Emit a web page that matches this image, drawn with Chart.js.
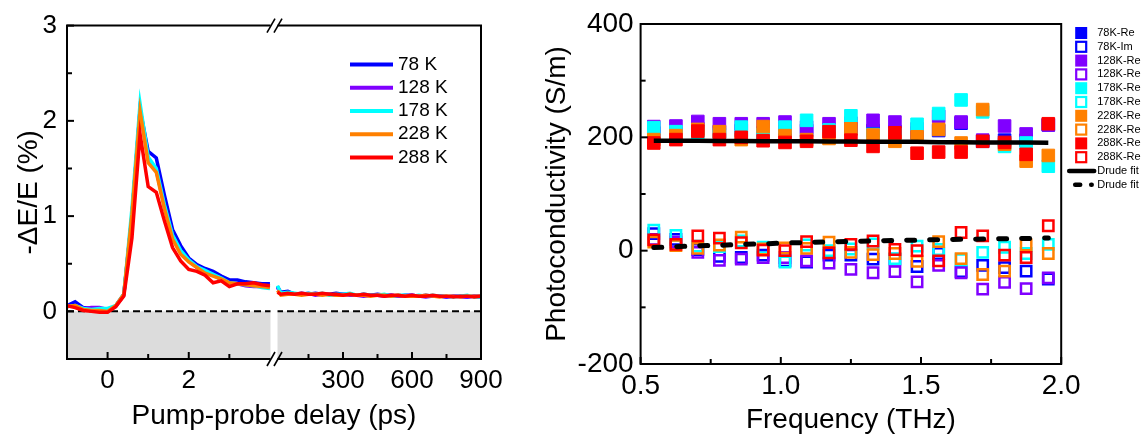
<!DOCTYPE html>
<html><head><meta charset="utf-8">
<script src="https://cdn.jsdelivr.net/npm/chart.js@4.4.1/dist/chart.umd.min.js"></script>
<style>
html,body{margin:0;padding:0;background:#fff;width:1142px;height:437px;overflow:hidden}
#c1{position:absolute;left:0;top:0}
#c2{position:absolute;left:520px;top:0}
</style></head><body>
<canvas id="c1" width="540" height="437"></canvas>
<canvas id="c2" width="622" height="437"></canvas>
<script>
const FONT = "'Liberation Sans', Arial, Helvetica, sans-serif";

// ===== Left panel data =====
const temps = ['78 K', '128 K', '178 K', '228 K', '288 K'];
const tempColors = ['#0000ff', '#8000ff', '#00ffff', '#ff8000', '#ff0000'];

const delayEarly = [-1.0, -0.8, -0.6, -0.4, -0.2, 0.0, 0.2, 0.4, 0.6, 0.8, 1.0, 1.2, 1.4, 1.6, 1.8, 2.0, 2.2, 2.4, 2.6, 2.8, 3.0, 3.2, 3.4, 3.6, 3.8, 4.0];
const early78  = [0.06, 0.10, 0.04, 0.03, 0.02, 0.01, 0.06, 0.18, 1.00, 2.12, 1.68, 1.61, 1.22, 0.86, 0.69, 0.56, 0.49, 0.45, 0.42, 0.37, 0.33, 0.33, 0.31, 0.30, 0.29, 0.29];
const early128 = [0.05, 0.06, 0.03, 0.04, 0.04, 0.02, 0.05, 0.17, 1.00, 2.12, 1.60, 1.48, 1.10, 0.80, 0.63, 0.53, 0.46, 0.42, 0.39, 0.33, 0.29, 0.29, 0.27, 0.26, 0.26, 0.25];
const early178 = [0.05, 0.06, 0.03, 0.02, 0.03, 0.03, 0.06, 0.18, 1.08, 2.18, 1.62, 1.50, 1.12, 0.80, 0.64, 0.54, 0.47, 0.43, 0.39, 0.35, 0.30, 0.29, 0.28, 0.27, 0.25, 0.24];
const early228 = [0.05, 0.06, 0.02, 0.01, 0.01, 0.00, 0.06, 0.18, 1.02, 2.10, 1.56, 1.46, 1.08, 0.76, 0.60, 0.52, 0.46, 0.40, 0.37, 0.34, 0.30, 0.29, 0.28, 0.27, 0.26, 0.25];
const early288 = [0.06, 0.04, 0.01, 0.00, -0.01, -0.01, 0.05, 0.16, 0.77, 1.86, 1.31, 1.25, 0.95, 0.67, 0.53, 0.44, 0.42, 0.38, 0.30, 0.32, 0.26, 0.29, 0.29, 0.30, 0.28, 0.27];

const delayLate = [15, 30, 60, 90, 120, 150, 180, 210, 240, 270, 300, 330, 360, 390, 420, 450, 480, 510, 540, 570, 600, 630, 660, 690, 720, 750, 780, 810, 840, 870, 900];
const late78  = [0.26, 0.20, 0.21, 0.18, 0.19, 0.18, 0.19, 0.18, 0.18, 0.19, 0.18, 0.18, 0.17, 0.18, 0.17, 0.18, 0.17, 0.17, 0.16, 0.17, 0.17, 0.16, 0.17, 0.16, 0.16, 0.15, 0.16, 0.16, 0.15, 0.16, 0.16];
const late128 = [0.25, 0.19, 0.19, 0.18, 0.18, 0.19, 0.17, 0.18, 0.18, 0.17, 0.18, 0.17, 0.17, 0.16, 0.17, 0.17, 0.16, 0.17, 0.16, 0.16, 0.17, 0.16, 0.15, 0.16, 0.16, 0.15, 0.16, 0.15, 0.15, 0.16, 0.15];
const late178 = [0.27, 0.19, 0.20, 0.19, 0.18, 0.19, 0.18, 0.19, 0.17, 0.18, 0.18, 0.19, 0.17, 0.18, 0.17, 0.17, 0.18, 0.16, 0.17, 0.17, 0.16, 0.17, 0.16, 0.17, 0.16, 0.16, 0.15, 0.16, 0.17, 0.15, 0.15];
const late228 = [0.22, 0.17, 0.18, 0.18, 0.17, 0.18, 0.18, 0.17, 0.18, 0.17, 0.17, 0.18, 0.17, 0.17, 0.16, 0.17, 0.17, 0.16, 0.17, 0.16, 0.16, 0.16, 0.17, 0.16, 0.15, 0.16, 0.16, 0.15, 0.16, 0.16, 0.16];
const late288 = [0.20, 0.18, 0.19, 0.18, 0.19, 0.18, 0.18, 0.19, 0.18, 0.18, 0.17, 0.18, 0.17, 0.18, 0.17, 0.17, 0.16, 0.17, 0.17, 0.16, 0.17, 0.16, 0.16, 0.17, 0.16, 0.16, 0.15, 0.16, 0.16, 0.15, 0.16];

const leftYTicks = [0, 1, 2, 3];
const leftYMinor = [0.5, 1.5, 2.5];
const earlyXTicks = [0, 2];
const earlyXMinor = [1, 3];
const lateXTicks = [300, 600, 900];
const lateXMinor = [150, 450, 750];

// ===== Right panel data =====
const freq = [0.547, 0.626, 0.704, 0.781, 0.859, 0.937, 1.015, 1.092, 1.172, 1.250, 1.329, 1.407, 1.486, 1.563, 1.643, 1.720, 1.798, 1.875, 1.954];
const re78  = [208, 206, 215, 210, 212, 208, 210, 212, 214, 215, 212, 210, 208, 212, 225, 193, 195, 195, 222];
const im78  = [30, 20, 2, -10, -12, -8, -18, -20, -8, -8, -15, -15, -28, -5, -37, -26, -30, -36, -50];
const re128 = [219, 220, 228, 224, 224, 224, 227, 218, 224, 225, 230, 227, 215, 237, 227, 195, 220, 206, 222];
const im128 = [20, 15, -3, -17, -15, -12, -12, -18, -22, -33, -39, -37, -55, -26, -39, -68, -56, -67, -48];
const re178 = [217, 210, 208, 205, 218, 205, 218, 230, 213, 238, 205, 205, 223, 242, 266, 245, 184, 190, 149];
const im178 = [36, 27, 8, 7, 17, 6, -20, 10, 0, 3, 12, -14, 8, 2, -16, -3, 6, -5, 11];
const re228 = [196, 203, 214, 210, 196, 219, 203, 196, 198, 215, 204, 193, 201, 214, 190, 249, 188, 158, 168];
const im228 = [15, 9, 4, 10, 24, 3, 5, 4, 15, -3, -7, -5, -19, 16, -14, -42, -36, 10, -5];
const re288 = [190, 196, 211, 196, 200, 194, 191, 193, 210, 195, 184, 208, 172, 174, 174, 193, 191, 170, 224];
const im288 = [19, 11, 26, 22, 14, 1, 0, 16, -4, 11, 17, 2, 0, -18, 32, 26, -8, -12, 44];
const drudeRe = [194, 194, 194, 193.5, 193.5, 193, 193, 193, 192.5, 192.5, 192, 192, 192, 191.5, 191.5, 191, 191, 191, 190.5];
const drudeIm = [5.5, 7, 8.5, 9.5, 11, 12, 13.5, 14.5, 15.5, 16.5, 17, 18, 18.5, 19.5, 20, 20.5, 21, 21.5, 22.5];

const seriesLabels = ['78K-Re', '78K-Im', '128K-Re', '128K-Re', '178K-Re', '178K-Re', '228K-Re', '228K-Re', '288K-Re', '288K-Re'];
const rightYTicks = [-200, 0, 200, 400];
const rightYMinor = [-100, 100, 300];
const rightXTicks = [0.5, 1.0, 1.5, 2.0];
const rightXMinor = [0.75, 1.25, 1.75];

// ===== Plugins =====
const tickMarks = {
  id: 'tickMarks',
  afterDraw(chart, args, opts) {
    const ctx = chart.ctx, ca = chart.chartArea;
    ctx.save();
    ctx.strokeStyle = '#000'; ctx.lineWidth = 2;
    for (const spec of opts.specs) {
      const s = chart.scales[spec.scale];
      for (const v of spec.values) {
        const p = s.getPixelForValue(v);
        ctx.beginPath();
        if (s.isHorizontal()) { ctx.moveTo(p, ca.bottom); ctx.lineTo(p, ca.bottom - spec.len); }
        else { ctx.moveTo(ca.left, p); ctx.lineTo(ca.left + spec.len, p); }
        ctx.stroke();
      }
    }
    ctx.restore();
  }
};

const leftDecor = {
  id: 'leftDecor',
  beforeDatasetsDraw(chart) {
    const ctx = chart.ctx, {left, right, top, bottom} = chart.chartArea;
    const y0 = chart.scales.y.getPixelForValue(0);
    const gc = chart.scales.x1.right;
    ctx.save();
    ctx.fillStyle = '#dcdcdc';
    ctx.fillRect(left, y0, right - left, bottom - y0);
    ctx.strokeStyle = '#000'; ctx.lineWidth = 2; ctx.setLineDash([7, 4]);
    ctx.beginPath(); ctx.moveTo(left, y0); ctx.lineTo(right, y0); ctx.stroke();
    ctx.setLineDash([]);
    ctx.fillStyle = '#fff';
    ctx.fillRect(gc - 3.5, top - 1, 7, bottom - top + 2);
    ctx.restore();
  },
  afterDraw(chart) {
    const ctx = chart.ctx, {left, right, top, bottom} = chart.chartArea;
    const gc = chart.scales.x1.right;
    const g0 = gc - 3.5, g1 = gc + 3.5;
    ctx.save();
    ctx.strokeStyle = '#000'; ctx.lineWidth = 2;
    ctx.beginPath();
    ctx.moveTo(g0, top); ctx.lineTo(left, top); ctx.lineTo(left, bottom); ctx.lineTo(g0, bottom);
    ctx.moveTo(g1, top); ctx.lineTo(right, top); ctx.lineTo(right, bottom); ctx.lineTo(g1, bottom);
    ctx.stroke();
    ctx.lineWidth = 1.6;
    for (const yy of [top, bottom]) {
      for (const cx of [g0 + 0.5, g1 + 0.5]) {
        ctx.beginPath(); ctx.moveTo(cx - 4, yy + 7); ctx.lineTo(cx + 4, yy - 7); ctx.stroke();
      }
    }
    // legend
    ctx.font = '19px ' + FONT; ctx.textBaseline = 'middle'; ctx.textAlign = 'left'; ctx.fillStyle = '#000';
    let row = 0;
    chart.data.datasets.forEach(ds => {
      if (!ds.legendShow) return;
      const y = top + 39 + row * 23.2;
      ctx.strokeStyle = ds.borderColor; ctx.lineWidth = 4;
      ctx.beginPath(); ctx.moveTo(right - 131, y); ctx.lineTo(right - 88, y); ctx.stroke();
      ctx.fillStyle = '#000';
      ctx.fillText(ds.label, right - 83, y);
      row++;
    });
    ctx.restore();
  }
};

const rightDecor = {
  id: 'rightDecor',
  afterDraw(chart) {
    const ctx = chart.ctx, {left, right, top, bottom} = chart.chartArea;
    ctx.save();
    ctx.strokeStyle = '#000'; ctx.lineWidth = 2;
    ctx.strokeRect(left, top, right - left, bottom - top);
    ctx.font = '11px ' + FONT; ctx.textBaseline = 'middle'; ctx.textAlign = 'left';
    chart.data.datasets.forEach((ds, i) => {
      const y = 33 + i * 13.8;
      const cx = right + 20;
      if (ds.legendKind === 'filled') {
        ctx.fillStyle = ds.backgroundColor; ctx.fillRect(cx - 6, y - 6, 12, 12);
      } else if (ds.legendKind === 'hollow') {
        ctx.strokeStyle = ds.borderColor; ctx.lineWidth = 2.2; ctx.strokeRect(cx - 5, y - 5, 10, 10);
      } else if (ds.legendKind === 'solid') {
        ctx.strokeStyle = '#000'; ctx.lineWidth = 4.5; ctx.lineCap = 'round';
        ctx.beginPath(); ctx.moveTo(right + 8, y); ctx.lineTo(right + 33, y); ctx.stroke();
      } else if (ds.legendKind === 'dashed') {
        ctx.strokeStyle = '#000'; ctx.lineWidth = 4.5; ctx.lineCap = 'round';
        ctx.beginPath(); ctx.moveTo(right + 14, y); ctx.lineTo(right + 19, y); ctx.stroke();
        ctx.beginPath(); ctx.moveTo(right + 30, y); ctx.lineTo(right + 30.5, y); ctx.stroke();
      }
      ctx.lineCap = 'butt';
      ctx.fillStyle = '#000';
      ctx.fillText(ds.label, right + 36, y);
    });
    ctx.restore();
  }
};

// ===== Left chart =====
const earlyVals = [early78, early128, early178, early228, early288];
const lateVals = [late78, late128, late178, late228, late288];
const leftDatasets = [];
temps.forEach((t, i) => {
  leftDatasets.push({
    label: t, xAxisID: 'x1', yAxisID: 'y', legendShow: true,
    data: delayEarly.map((x, j) => ({x: x, y: earlyVals[i][j]})),
    borderColor: tempColors[i], backgroundColor: tempColors[i],
    borderWidth: 3.5, pointRadius: 0, tension: 0, fill: false, order: -i
  });
});
temps.forEach((t, i) => {
  leftDatasets.push({
    label: t, xAxisID: 'x2', yAxisID: 'y', legendShow: false,
    data: delayLate.map((x, j) => ({x: x, y: lateVals[i][j]})),
    borderColor: tempColors[i], backgroundColor: tempColors[i],
    borderWidth: 3.5, pointRadius: 0, tension: 0, fill: false, order: -i
  });
});

const tickFontL = {family: FONT, size: 26};
new Chart(document.getElementById('c1'), {
  type: 'line',
  data: {datasets: leftDatasets},
  plugins: [leftDecor, tickMarks],
  options: {
    responsive: false, animation: false, events: [], devicePixelRatio: 1,
    layout: {padding: {left: 0, top: 24, right: 59, bottom: 0}},
    scales: {
      x1: {
        type: 'linear', position: 'bottom', stack: 'delay', stackWeight: 1, min: -1, max: 4.1,
        grid: {display: false, drawTicks: false}, border: {display: false},
        afterBuildTicks: s => { s.ticks = earlyXTicks.map(v => ({value: v})); },
        afterFit: s => { s.height = 36; },
        ticks: {font: tickFontL, color: '#000', padding: 6, maxRotation: 0, autoSkip: false}
      },
      x2: {
        type: 'linear', position: 'bottom', stack: 'delay', stackWeight: 1, min: 0, max: 900,
        grid: {display: false, drawTicks: false}, border: {display: false},
        afterBuildTicks: s => { s.ticks = lateXTicks.map(v => ({value: v})); },
        afterFit: s => { s.height = 36; },
        ticks: {font: tickFontL, color: '#000', padding: 6, maxRotation: 0, autoSkip: false}
      },
      y: {
        type: 'linear', position: 'left', min: -0.5, max: 3,
        grid: {display: false, drawTicks: false}, border: {display: false},
        afterBuildTicks: s => { s.ticks = leftYTicks.map(v => ({value: v})); },
        afterFit: s => { s.width = 67; },
        ticks: {font: tickFontL, color: '#000', padding: 10, autoSkip: false},
        title: {display: true, text: '-ΔE/E (%)', color: '#000', font: {family: FONT, size: 28}, padding: {top: 12, bottom: 0}}
      }
    },
    plugins: {
      legend: {display: false},
      tooltip: {enabled: false},
      title: {
        display: true, position: 'bottom', fullSize: false, text: 'Pump-probe delay (ps)', color: '#000',
        font: {family: FONT, size: 28, weight: 'normal'}, padding: {top: 4.5, bottom: 3.9}
      },
      tickMarks: {specs: [
        {scale: 'y', values: leftYTicks, len: 7},
        {scale: 'y', values: leftYMinor, len: 5},
        {scale: 'x1', values: earlyXTicks, len: 7},
        {scale: 'x1', values: earlyXMinor, len: 5},
        {scale: 'x2', values: lateXTicks, len: 7},
        {scale: 'x2', values: lateXMinor, len: 5}
      ]}
    }
  }
});

// ===== Right chart =====
const seriesVals = [re78, im78, re128, im128, re178, im178, re228, im228, re288, im288];
const rightDatasets = seriesVals.map((vals, i) => {
  const color = tempColors[Math.floor(i / 2)];
  const filled = (i % 2 === 0);
  return {
    label: seriesLabels[i],
    legendKind: filled ? 'filled' : 'hollow',
    data: freq.map((x, j) => ({x: x, y: vals[j]})),
    pointStyle: 'rect',
    pointRadius: filled ? 8.9 : 7.3,
    borderWidth: filled ? 1 : 2.5,
    borderColor: color,
    backgroundColor: filled ? color : 'rgba(255,255,255,0)',
    showLine: false,
    order: -i
  };
});
rightDatasets.push({
  label: 'Drude fit', legendKind: 'solid',
  data: freq.map((x, j) => ({x: x, y: drudeRe[j]})),
  showLine: true, pointRadius: 0, borderColor: '#000', backgroundColor: '#000',
  borderWidth: 4.5, tension: 0, order: -100
});
rightDatasets.push({
  label: 'Drude fit', legendKind: 'dashed',
  data: freq.map((x, j) => ({x: x, y: drudeIm[j]})),
  showLine: true, pointRadius: 0, borderColor: '#000', backgroundColor: '#000',
  borderWidth: 5, borderDash: [8, 15], borderCapStyle: 'round', tension: 0, order: -101
});

const tickFontR = {family: FONT, size: 28};
new Chart(document.getElementById('c2'), {
  type: 'scatter',
  data: {datasets: rightDatasets},
  plugins: [rightDecor, tickMarks],
  options: {
    responsive: false, animation: false, events: [], devicePixelRatio: 1,
    layout: {padding: {left: 0, top: 24, right: 80.8, bottom: 0}},
    scales: {
      x: {
        type: 'linear', position: 'bottom', min: 0.5, max: 2.0,
        grid: {display: false, drawTicks: false}, border: {display: false},
        afterBuildTicks: s => { s.ticks = rightXTicks.map(v => ({value: v})); },
        afterFit: s => { s.height = 73; },
        ticks: {font: tickFontR, color: '#000', padding: 5, maxRotation: 0, autoSkip: false, callback: v => Number(v).toFixed(1)},
        title: {display: true, text: 'Frequency (THz)', color: '#000', font: {family: FONT, size: 28}, padding: {top: 0, bottom: 0}}
      },
      y: {
        type: 'linear', position: 'left', min: -200, max: 400,
        grid: {display: false, drawTicks: false}, border: {display: false},
        afterBuildTicks: s => { s.ticks = rightYTicks.map(v => ({value: v})); },
        afterFit: s => { s.width = 120.6; },
        ticks: {font: tickFontR, color: '#000', padding: 7, autoSkip: false},
        title: {display: true, text: 'Photoconductivity (S/m)', color: '#000', font: {family: FONT, size: 28}, padding: {top: 20, bottom: 0}}
      }
    },
    plugins: {
      legend: {display: false},
      tooltip: {enabled: false},
      tickMarks: {specs: [
        {scale: 'y', values: rightYTicks, len: 7},
        {scale: 'y', values: rightYMinor, len: 5},
        {scale: 'x', values: rightXTicks, len: 7},
        {scale: 'x', values: rightXMinor, len: 5}
      ]}
    }
  }
});
</script>
</body></html>
